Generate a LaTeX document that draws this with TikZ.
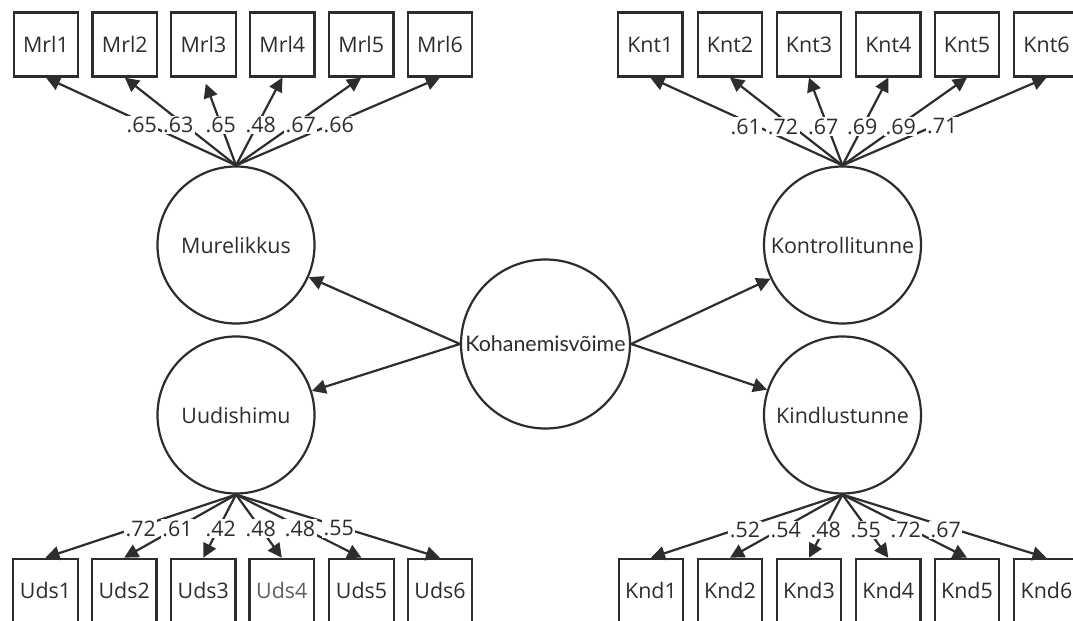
\documentclass[tikz,border=0pt]{standalone}
\usepackage{fontspec}
\setmainfont{Open Sans}
\newfontfamily\kohfont{Lato}
\usetikzlibrary{arrows.meta,calc}
\definecolor{ink}{RGB}{45,45,45}
\definecolor{inklight}{RGB}{95,95,95}
\begin{document}
\begin{tikzpicture}[x=1bp,y=-1bp,
  every node/.style={font=\fontsize{21.5}{25}\selectfont, text=ink},
  obs/.style={draw=ink, line width=2.2bp, minimum width=64.5bp, minimum height=64bp, inner sep=0pt},
  lat/.style={draw=ink, circle, line width=2.2bp, minimum size=157bp, inner sep=0pt},
  bigl/.style={draw=ink, circle, line width=2.2bp, minimum size=169bp, inner sep=0pt,
    font=\kohfont\fontsize{21.5}{25}\selectfont},
  load/.style={draw=ink, line width=2.2bp, -{Triangle[length=14bp,width=14bp]}},
  lbl/.style={fill=white, inner sep=1.5bp}]
\clip (0,0) rectangle (1073,621);
\fill[white] (0,0) rectangle (1073,621);

% latent variables
\node[lat] (mur) at (236,245) {Murelikkus};
\node[lat] (uud) at (236,415) {Uudishimu};
\node[bigl] (koh) at (545.5,344) {Kohanemisvõime};
\node[lat] (kon) at (842.5,245) {Kontrollitunne};
\node[lat] (kin) at (842.5,415) {Kindlustunne};

% observed variables
\foreach \i/\x in {1/46,2/124.8,3/203.5,4/282.3,5/361.2,6/440}{
  \node[obs] (m\i) at (\x,44.5) {Mrl\i};
}
\foreach \i/\x in {1/45.5,2/124.2,3/203.3,4/281.8,5/361.5,6/440}{
  \node[obs] (u\i) at (\x,590.8) {\ifnum\i=4 \textcolor{inklight}{Uds\i}\else Uds\i\fi};
}
\foreach \i/\x in {1/650.3,2/730,3/809,4/888.3,5/967,6/1046.5}{
  \node[obs] (k\i) at (\x,44.5) {Knt\i};
}
\foreach \i/\x in {1/651,2/730,3/809,4/888.3,5/967,6/1046.5}{
  \node[obs] (d\i) at (\x,590.8) {Knd\i};
}

% structural paths
\draw[load] (koh.west) -- (mur);
\draw[load] (koh.west) -- (uud);
\draw[load] (koh.east) -- (kon);
\draw[load] (koh.east) -- (kin);

% loadings
\coordinate (m3end) at ($(mur.north)!0.93!(m3.south)$);
\foreach \i in {1,2,4,5,6}{ \draw[load] (mur.north) -- (m\i.south); }
\draw[load] (mur.north) -- (m3end);
\foreach \i in {1,...,6}{ \draw[load] (kon.north) -- (k\i.south); }
\foreach \i in {1,...,6}{ \draw[load] (uud.south) -- (u\i.north); }
\foreach \i in {1,...,6}{ \draw[load] (kin.south) -- (d\i.north); }

% loading labels
\node[lbl] (lm1) at (141.7,125) {.65};
\node[lbl] (lm2) at (178.3,125) {.63};
\node[lbl] (lm3) at (220.8,125) {.65};
\node[lbl] (lm4) at (260.8,125) {.48};
\node[lbl] (lm5) at (300.8,125) {.67};
\node[lbl] (lm6) at (338.8,125) {.66};

\node[lbl] (lk1) at (745.7,126.5) {.61};
\node[lbl] (lk2) at (783,126.5) {.72};
\node[lbl] (lk3) at (823.3,126.5) {.67};
\node[lbl] (lk4) at (862.3,126.5) {.69};
\node[lbl] (lk5) at (900.7,126.5) {.69};
\node[lbl] (lk6) at (942.3,126.5) {.71};

\node[lbl] (lu1) at (140.7,528.5) {.72};
\node[lbl] (lu2) at (177.5,528.5) {.61};
\node[lbl] (lu3) at (220.8,528.5) {.42};
\node[lbl] (lu4) at (260.8,528.5) {.48};
\node[lbl] (lu5) at (300,528.5) {.48};
\node[lbl] (lu6) at (338.8,528.5) {.55};

\node[lbl] (ld1) at (745,530) {.52};
\node[lbl] (ld2) at (785.7,530) {.54};
\node[lbl] (ld3) at (825.7,530) {.48};
\node[lbl] (ld4) at (865.7,530) {.55};
\node[lbl] (ld5) at (905.7,530) {.72};
\node[lbl] (ld6) at (945.7,530) {.67};
\end{tikzpicture}
\end{document}
